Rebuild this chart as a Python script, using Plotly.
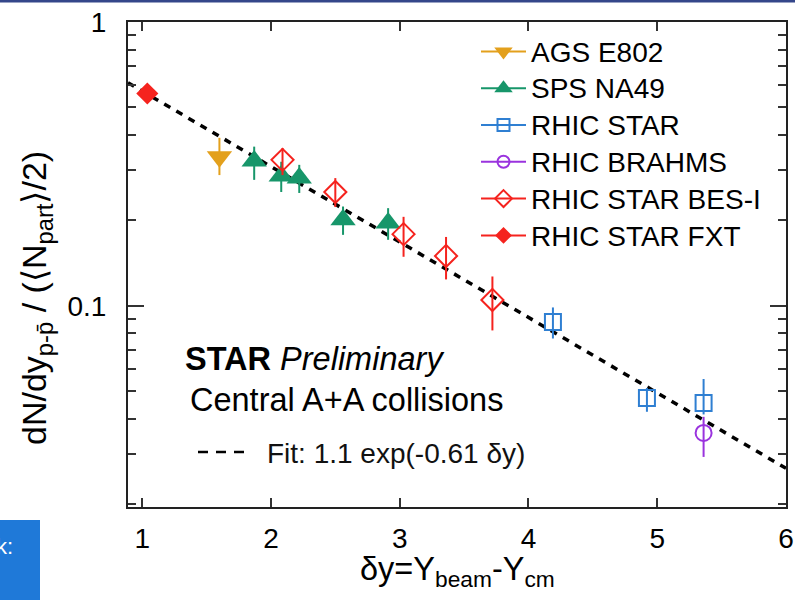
import plotly.graph_objects as go

# ---------------- data ----------------
ags_x = [1.60]
ags_y = [0.335]
ags_ep = [0.056]
ags_em = [0.046]

na49_x = [1.87, 2.08, 2.22, 2.56, 2.91]
na49_y = [0.324, 0.287, 0.282, 0.201, 0.196]
na49_ep = [0.040, 0.035, 0.032, 0.023, 0.025]
na49_em = [0.046, 0.035, 0.032, 0.023, 0.025]

star_x = [4.19, 4.92, 5.36]
star_y = [0.0878, 0.0474, 0.0455]
star_ep = [0.011, 0.004, 0.0098]
star_em = [0.011, 0.005, 0.004]

brahms_x = [5.36]
brahms_y = [0.0357]
brahms_ep = [0.005]
brahms_em = [0.0063]

bes_x = [2.09, 2.50, 3.03, 3.36, 3.72]
bes_y = [0.327, 0.252, 0.179, 0.150, 0.105]
bes_ep = [0.033, 0.030, 0.027, 0.025, 0.022]
bes_em = [0.038, 0.029, 0.030, 0.026, 0.023]

fxt_x = [1.04]
fxt_y = [0.56]
fxt_ep = [0.01]
fxt_em = [0.01]

fit_x = [0.89, 6.0]
fit_y = [0.611, 0.0268]

series_names = ["AGS E802", "SPS NA49", "RHIC STAR", "RHIC BRAHMS",
                "RHIC STAR BES-I", "RHIC STAR FXT"]
x_tick_vals = [1, 2, 3, 4, 5, 6]
y_tick_vals = [0.1, 1]
y_tick_text = ["0.1", "1"]
y_minor_vals = [0.02, 0.03, 0.04, 0.05, 0.06, 0.07, 0.08, 0.09,
                0.2, 0.3, 0.4, 0.5, 0.6, 0.7, 0.8, 0.9]

# ---------------- styles ----------------
FONT = "Liberation Sans, Arial, Helvetica, sans-serif"
C_AGS = "#e3a01c"
C_NA49 = "#17966a"
C_STAR = "#2f7fd2"
C_BRAHMS = "#9a33de"
C_RED = "#f5231e"

styles = [
    (ags_x, ags_y, ags_ep, ags_em, C_AGS, "triangle-down", 22, 0),
    (na49_x, na49_y, na49_ep, na49_em, C_NA49, "triangle-up", 22, 0),
    (star_x, star_y, star_ep, star_em, C_STAR, "square-open", 16, 2),
    (brahms_x, brahms_y, brahms_ep, brahms_em, C_BRAHMS, "circle-open", 16, 2),
    (bes_x, bes_y, bes_ep, bes_em, C_RED, "diamond-open", 17, 2),
    (fxt_x, fxt_y, fxt_ep, fxt_em, C_RED, "diamond", 17, 0),
]

fig = go.Figure()

# fit line
fig.add_trace(go.Scatter(
    x=fit_x, y=fit_y, mode="lines", showlegend=False, hoverinfo="skip",
    line=dict(color="black", width=3.5, dash="7px,7px"),
))

for name, (xs, ys, ep, em, col, sym, sz, lw) in zip(series_names, styles):
    fig.add_trace(go.Scatter(
        x=xs, y=ys, mode="markers", name=name, showlegend=False,
        marker=dict(symbol=sym, size=sz, color=col,
                    line=dict(color=col, width=lw)),
        error_y=dict(type="data", array=ep, arrayminus=em, symmetric=False,
                     color=col, thickness=2, width=0),
    ))

# legend entries (marker with horizontal bar)
for name, (xs, ys, ep, em, col, sym, sz, lw) in zip(series_names, styles):
    fig.add_trace(go.Scatter(
        x=[None], y=[None], mode="lines+markers",
        name='<span style="font-size:28px">' + name + '</span>',
        marker=dict(symbol=sym, size=sz - 4, color=col,
                    line=dict(color=col, width=lw)),
        line=dict(color=col, width=2),
    ))

axis_common = dict(
    showline=True, linecolor="#222222", linewidth=2, mirror="ticks",
    ticks="inside", tickcolor="#333333", tickwidth=1.5,
    showgrid=False, zeroline=False,
    tickfont=dict(family=FONT, size=28, color="black"),
)

fig.update_xaxes(
    range=[0.89, 6.0], tickmode="array", tickvals=x_tick_vals,
    ticklen=9, ticklabelstandoff=5,
    **axis_common,
)
fig.update_yaxes(
    type="log", range=[-1.708, 0], tickmode="array",
    tickvals=y_tick_vals, ticktext=y_tick_text, ticklen=16,
    ticklabelstandoff=14,
    minor=dict(tickmode="array", tickvals=y_minor_vals, ticklen=8,
               ticks="inside", tickcolor="#333333", tickwidth=1.5,
               showgrid=False),
    **axis_common,
)

PL, PR, PT, PB = 128, 9, 22, 93
W, H = 795, 600
PW = W - PL - PR
PH = H - PT - PB


def px(xp):
    return (xp - PL) / PW


def py(yp):
    return (H - PB - yp) / PH


fig.update_layout(
    width=W, height=H,
    margin=dict(l=PL, r=PR, t=PT, b=PB, autoexpand=False),
    plot_bgcolor="white", paper_bgcolor="white",
    font=dict(family=FONT, color="black"),
    legend=dict(
        x=px(476), y=py(28), xanchor="left", yanchor="top",
        bgcolor="rgba(0,0,0,0)", font=dict(family=FONT, size=26, color="black"),
        itemsizing="trace", itemwidth=45, tracegroupgap=0,
    ),
    annotations=[
        dict(x=px(36), y=py(298), xref="paper", yref="paper", xanchor="center",
             yanchor="middle", showarrow=False, textangle=-90,
             text="dN/dy<sub>p-p\u0304</sub> / (\u27e8N<sub>part</sub>\u27e9/2)",
             font=dict(family=FONT, size=34, color="black")),
        dict(x=px(457), y=py(571), xref="paper", yref="paper", xanchor="center",
             yanchor="middle", showarrow=False,
             text="δy=Y<sub>beam</sub>-Y<sub>cm</sub>",
             font=dict(family=FONT, size=32.5, color="black")),
        dict(x=px(183), y=py(359), xref="paper", yref="paper", xanchor="left",
             yanchor="middle", showarrow=False,
             text="<b>STAR</b> <i>Preliminary</i>",
             font=dict(family=FONT, size=32.5, color="black")),
        dict(x=px(188), y=py(400), xref="paper", yref="paper", xanchor="left",
             yanchor="middle", showarrow=False,
             text="Central A+A collisions",
             font=dict(family=FONT, size=32.5, color="black")),
        dict(x=px(265), y=py(453), xref="paper", yref="paper", xanchor="left",
             yanchor="middle", showarrow=False,
             text="Fit: 1.1 exp(-0.61 δy)",
             font=dict(family=FONT, size=28, color="#111111")),
        dict(x=px(15), y=py(546), xref="paper", yref="paper", xanchor="right",
             yanchor="middle", showarrow=False, text="k:",
             font=dict(family=FONT, size=22, color="white")),
    ],
    shapes=[
        dict(type="line", xref="paper", yref="paper",
             x0=px(198), x1=px(250), y0=py(452), y1=py(452),
             line=dict(color="black", width=2.5, dash="10px,8px")),
        dict(type="rect", xref="paper", yref="paper",
             x0=px(0), x1=px(40), y0=py(520), y1=py(600),
             fillcolor="#1f79d8", line=dict(width=0), layer="above"),
        dict(type="rect", xref="paper", yref="paper",
             x0=px(0), x1=px(795), y0=py(0), y1=py(2.5),
             fillcolor="#34468a", line=dict(width=0), layer="above"),
    ],
)

fig.write_html(
    "out.html",
    config={"displayModeBar": False},
    post_script="document.body.style.margin='0';document.body.style.overflow='hidden';",
)
